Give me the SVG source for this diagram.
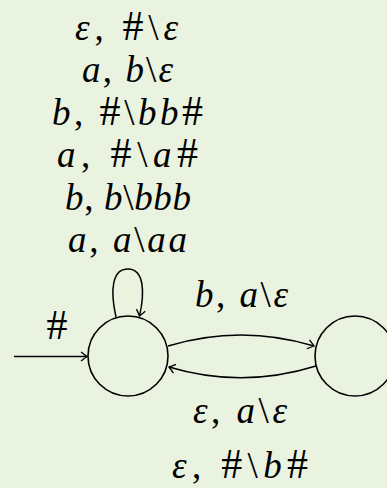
<svg xmlns="http://www.w3.org/2000/svg" width="387" height="488" viewBox="0 0 387 488">
<style>
.bg{fill:#e9f3df}
.st{fill:none;stroke:#000;stroke-width:1.6}
.e{fill:none;stroke:#000;stroke-width:1.5}
text{font-family:"Liberation Serif","DejaVu Serif",serif;font-size:37px;fill:#000}
.i{font-style:italic}
.h{font-size:42px}
</style>
<defs>
<marker id="ah" markerWidth="12" markerHeight="12" refX="0" refY="0" viewBox="-7 -6 9 12" orient="auto" markerUnits="userSpaceOnUse">
<path d="M-6,-4.5 Q-1.5,-1 0,0 Q-1.5,1 -6,4.5" fill="none" stroke="#000" stroke-width="1.3"/>
</marker>
</defs>
<rect class="bg" width="387" height="488"/>
<g id="q0"><circle class="st" cx="128" cy="356" r="40"/></g>
<g id="q1"><circle class="st" cx="355" cy="356" r="40"/></g>
<g id="connectors">
<path class="e" d="M14 356.5 L87 356.5" marker-end="url(#ah)"/>
<path class="e" d="M116 317 C110 290 112 269 128 269 C144 269 145 292 139.5 316" marker-end="url(#ah)"/>
<path class="e" d="M168 346 Q241 324 314 346" marker-end="url(#ah)"/>
<path class="e" d="M316 366 Q242 389 169 367" marker-end="url(#ah)"/>
</g>
<g id="labels">
<text x="57" y="339" text-anchor="middle" class="h">#</text>
<text x="75" y="40" textLength="103" lengthAdjust="spacing"><tspan class="i">ε</tspan>, <tspan class="h">#</tspan>\<tspan class="i">ε</tspan></text>
<text x="82" y="82" textLength="91" lengthAdjust="spacing"><tspan class="i">a</tspan>, <tspan class="i">b</tspan>\<tspan class="i">ε</tspan></text>
<text x="52" y="125" textLength="151" lengthAdjust="spacing"><tspan class="i">b</tspan>, <tspan class="h">#</tspan>\<tspan class="i">bb</tspan><tspan class="h">#</tspan></text>
<text x="57" y="167" textLength="141" lengthAdjust="spacing"><tspan class="i">a</tspan>, <tspan class="h">#</tspan>\<tspan class="i">a</tspan><tspan class="h">#</tspan></text>
<text x="65" y="210" textLength="126" lengthAdjust="spacing"><tspan class="i">b</tspan>, <tspan class="i">b</tspan>\<tspan class="i">bbb</tspan></text>
<text x="68" y="252" textLength="119" lengthAdjust="spacing"><tspan class="i">a</tspan>, <tspan class="i">a</tspan>\<tspan class="i">aa</tspan></text>
<text x="195" y="307" textLength="93" lengthAdjust="spacing"><tspan class="i">b</tspan>, <tspan class="i">a</tspan>\<tspan class="i">ε</tspan></text>
<text x="193" y="423" textLength="94" lengthAdjust="spacing"><tspan class="i">ε</tspan>, <tspan class="i">a</tspan>\<tspan class="i">ε</tspan></text>
<text x="172" y="478" textLength="136" lengthAdjust="spacing"><tspan class="i">ε</tspan>, <tspan class="h">#</tspan>\<tspan class="i">b</tspan><tspan class="h">#</tspan></text>
</g>
</svg>
